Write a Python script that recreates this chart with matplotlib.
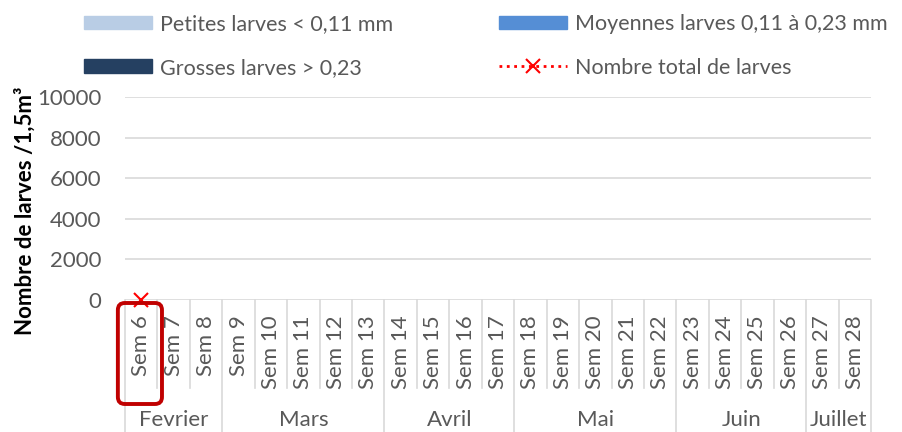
import numpy as np
import matplotlib
matplotlib.use("Agg")
import matplotlib.pyplot as plt
from matplotlib.patches import Patch, FancyBboxPatch
from matplotlib.lines import Line2D
from matplotlib.transforms import blended_transform_factory, IdentityTransform

plt.rcParams['font.family'] = ['Lato', 'DejaVu Sans']

weeks = [f"Sem {i}" for i in range(6, 29)]
months = ["Fevrier", "Mars", "Avril", "Mai", "Juin", "Juillet"]
month_sizes = [3, 5, 4, 5, 4, 2]
petites = [0] + [np.nan] * 22
moyennes = [0] + [np.nan] * 22
grosses = [0] + [np.nan] * 22
total = [0] + [np.nan] * 22
highlight = "Sem 6"
yticks = [0, 2000, 4000, 6000, 8000, 10000]

c_pet = "#B9CDE5"
c_moy = "#558ED5"
c_gro = "#254061"
gray_txt = "#595959"
grid_c = "#D9D9D9"
FS = 16
LFS = 15.5

W, H = 903, 432
fig = plt.figure(figsize=(W / 100, H / 100), dpi=100)
ax = fig.add_axes([125 / W, 1 - 300 / H, (871 - 125) / W, (300 - 97) / H])

x = np.arange(len(weeks))
p = np.nan_to_num(np.array(petites, float))
m = np.nan_to_num(np.array(moyennes, float))
g = np.nan_to_num(np.array(grosses, float))
ax.bar(x, p, width=0.6, color=c_pet)
ax.bar(x, m, width=0.6, bottom=p, color=c_moy)
ax.bar(x, g, width=0.6, bottom=p + m, color=c_gro)
ax.plot(x, total, color="#FF0000", linestyle=":", linewidth=2, marker="x",
        markersize=10, markeredgewidth=1.5, zorder=5, clip_on=False)

ax.set_xlim(-0.5, len(weeks) - 0.5)
ax.set_ylim(0, 10000)
ax.set_yticks(yticks)
ax.set_yticklabels([str(v) for v in yticks], fontsize=FS, color=gray_txt)
ax.tick_params(axis='y', length=0, pad=17)
ax.set_xticks([])
for s in ax.spines.values():
    s.set_visible(False)
for v in yticks:
    ax.axhline(v, color=grid_c, linewidth=1.2, zorder=0)

ax_w = 871 - 125
ax_h = 300 - 97
ax.set_ylabel("Nombre de larves /1,5m³", fontsize=FS, fontweight='bold',
              color='black')
ax.yaxis.set_label_coords((36 - 125) / ax_w, (300 - 211) / ax_h)

trans = blended_transform_factory(ax.transData, ax.transAxes)
y_cat = -(388 - 300) / ax_h
y_bot = -(432 - 300) / ax_h - 0.05
# category labels
for i, wk in enumerate(weeks):
    ax.text(i, -(315 - 300) / ax_h, wk, rotation=90, ha='center', va='top',
            fontsize=FS, color=gray_txt, transform=trans)
# dividers
bounds = np.cumsum([0] + month_sizes)
for b in range(len(weeks) + 1):
    xb = b - 0.5
    y1 = y_bot if b in bounds else y_cat
    ax.plot([xb, xb], [0, y1], color=grid_c, linewidth=1.2,
            transform=trans, clip_on=False)
# month labels
for i, mo in enumerate(months):
    cx = (bounds[i] + bounds[i + 1]) / 2 - 0.5
    ax.text(cx, -(420 - 300) / ax_h, mo, ha='center', va='center',
            fontsize=FS, color=gray_txt, transform=trans)

# highlight box
fig.canvas.draw()
idx = weeks.index(highlight)
x0 = ax.transData.transform((idx - 0.72, 0))[0]
x1 = ax.transData.transform((idx + 0.64, 0))[0]
y0 = H - 404
y1 = H - 303
box = FancyBboxPatch((x0, y0), x1 - x0, y1 - y0,
                     boxstyle="round,pad=0,rounding_size=7",
                     transform=IdentityTransform(), facecolor='none',
                     edgecolor="#C00000", linewidth=2.8, zorder=10)
fig.patches.append(box)

handles = [Patch(color=c_pet, label="Petites larves < 0,11 mm"),
           Patch(color=c_gro, label="Grosses larves > 0,23"),
           Patch(color=c_moy, label="Moyennes larves 0,11 à 0,23 mm"),
           Line2D([0], [0], color="#FF0000", linestyle=":", linewidth=2,
                  marker="x", markersize=10, markeredgewidth=1.5,
                  label="Nombre total de larves")]
leg = fig.legend(handles=handles, ncol=2, loc='upper left',
                 bbox_to_anchor=(84 / W, 1 - 14 / H), frameon=False,
                 fontsize=LFS, handlelength=3.15, handleheight=0.6,
                 handletextpad=0.37, columnspacing=4.95, labelspacing=1.1,
                 borderpad=0, borderaxespad=0)
for t in leg.get_texts():
    t.set_color(gray_txt)

fig.savefig("out.png", dpi=100)
